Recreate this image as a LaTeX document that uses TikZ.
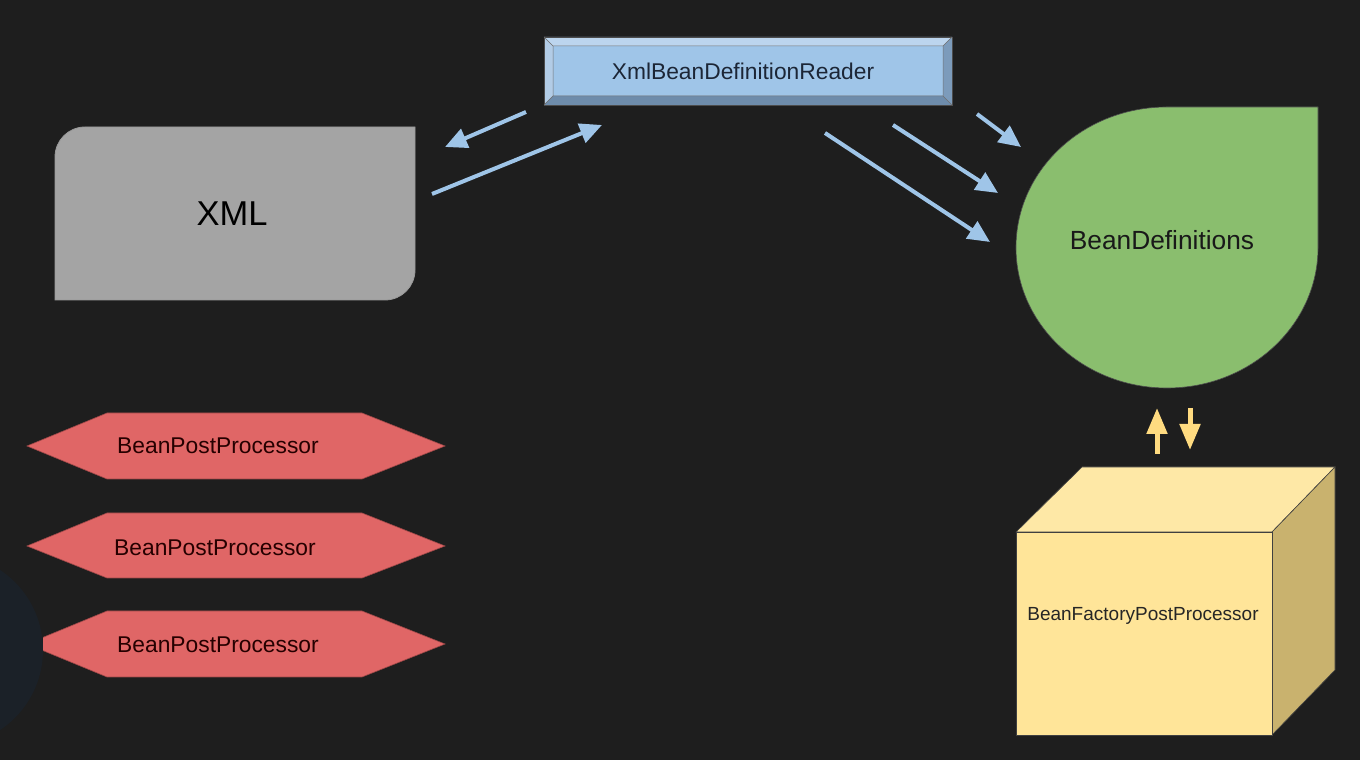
\documentclass[tikz,border=0pt]{standalone}
\usepackage{fontspec}
\setmainfont{Liberation Sans}
\usetikzlibrary{arrows.meta}
\definecolor{bg}{HTML}{1E1E1E}
\definecolor{blu}{HTML}{9FC5E8}
\definecolor{bluL}{HTML}{BCD5EE}
\definecolor{bluLL}{HTML}{B2CCE6}
\definecolor{bluD}{HTML}{6E8CAB}
\definecolor{bluDD}{HTML}{7C9BBB}
\definecolor{navy}{HTML}{1C2636}
\definecolor{gry}{HTML}{A4A4A4}
\definecolor{grn}{HTML}{8ABE6E}
\definecolor{redh}{HTML}{E06666}
\definecolor{yel}{HTML}{FFE599}
\definecolor{yelT}{HTML}{FEE8A6}
\definecolor{yelS}{HTML}{C9B26E}
\definecolor{yarr}{HTML}{FFDB80}
\definecolor{deco}{HTML}{1B2128}
\tikzset{
  x=1pt,y=1pt,
  edge/.style={draw=black!80, line width=0.8pt},
  barrow/.style={draw=blu, line width=4pt, -{Triangle[length=22pt,width=20pt]}},
  yarrow/.style={draw=yarr, line width=5pt, -{Triangle[length=26pt,width=20pt]}},
  hexa/.style={fill=redh, draw=redh!70!black, line width=0.6pt},
  lbl/.style={inner sep=0pt, text=black!85},
  bpplbl/.style={lbl, text=black!85!red, font=\fontsize{22.8}{26}\selectfont}
}
\begin{document}
\begin{tikzpicture}
\fill[bg] (0,0) rectangle (1360,760);
\useasboundingbox (0,0) rectangle (1360,760);

% decorative dark disc at the left edge
\fill[deco] (-53,110) circle[radius=96];

% XmlBeanDefinitionReader bevel box
\fill[blu] (553,664) rectangle (943,714);
\fill[bluL] (544,723) -- (952,723) -- (943,714) -- (553,714) -- cycle;
\fill[bluLL] (544,723) -- (553,714) -- (553,664) -- (544,655) -- cycle;
\fill[bluD] (544,655) -- (553,664) -- (943,664) -- (952,655) -- cycle;
\fill[bluDD] (952,655) -- (943,664) -- (943,714) -- (952,723) -- cycle;
\draw[draw=black!70, line width=0.8pt] (544,655) rectangle (952,723);
\draw[draw=black!55, line width=0.5pt] (553,664) rectangle (943,714)
  (544,655) -- (553,664) (952,655) -- (943,664) (544,723) -- (553,714) (952,723) -- (943,714);
\node[lbl, text=navy, font=\fontsize{22.8}{26}\selectfont] (reader) at (743,689) {XmlBeanDefinitionReader};

% XML box
\fill[gry, draw=gray!80, line width=0.8pt] (55,460) -- (55,603) arc[start angle=180, end angle=90, radius=30]
  -- (415,633) -- (415,490) arc[start angle=0, end angle=-90, radius=30] -- cycle;
\node[lbl, text=black, font=\fontsize{34.5}{40}\selectfont] (xml) at (232,546) {XML};

% BeanDefinitions teardrop
\fill[grn, draw=black!70, line width=0.6pt] (1167,653) -- (1318,653) -- (1318,512.5)
  arc[start angle=0, end angle=-270, x radius=151, y radius=140.5] -- cycle;
\node[lbl, text=black!90, font=\fontsize{26.3}{30}\selectfont] (bd) at (1162,520) {BeanDefinitions};

% BeanPostProcessor hexagons
\path[hexa] (27,314) -- (107,347) -- (362,347) -- (445,314) -- (362,281) -- (107,281) -- cycle;
\path[hexa] (27,214) -- (107,247) -- (362,247) -- (445,214) -- (362,182) -- (107,182) -- cycle;
\begin{scope}
\clip (43,0) rectangle (1360,760);
\path[hexa] (27,116) -- (107,149) -- (362,149) -- (445,116) -- (362,83) -- (107,83) -- cycle;
\end{scope}
\node[bpplbl] (bpp1) at (218,314) {BeanPostProcessor};
\node[bpplbl] (bpp2) at (215,212) {BeanPostProcessor};
\node[bpplbl] (bpp3) at (218,115) {BeanPostProcessor};

% BeanFactoryPostProcessor cube
\fill[yelT, draw=black!75, line width=0.6pt] (1016,228) -- (1082,293) -- (1335,293) -- (1272,228) -- cycle;
\fill[yelS, draw=black!75, line width=0.6pt] (1272,228) -- (1335,293) -- (1335,90) -- (1272,25) -- cycle;
\fill[yel, draw=black!75, line width=0.6pt] (1016,25) rectangle (1272,228);
\node[lbl, text=black!85, font=\fontsize{19}{22}\selectfont] (bfpp) at (1143,144) {BeanFactoryPostProcessor};

% arrow end points
\coordinate (r1) at (526,648); \coordinate (x1) at (445,613);
\coordinate (x2) at (432,566); \coordinate (r2) at (602,635);
\coordinate (ra) at (977,646); \coordinate (ba) at (1021,613);
\coordinate (rb) at (893,635); \coordinate (bb) at (998,567);
\coordinate (rc) at (825,627); \coordinate (bc) at (990,518);
\coordinate (bu1) at (1157,306); \coordinate (bu2) at (1157,352);
\coordinate (bd1) at (1190,352); \coordinate (bd2) at (1190,310);

\draw[barrow] (r1) -- (x1);
\draw[barrow] (x2) -- (r2);
\draw[barrow] (ra) -- (ba);
\draw[barrow] (rb) -- (bb);
\draw[barrow] (rc) -- (bc);
\draw[yarrow] (bu1) -- (bu2);
\draw[yarrow] (bd1) -- (bd2);
\end{tikzpicture}
\end{document}
